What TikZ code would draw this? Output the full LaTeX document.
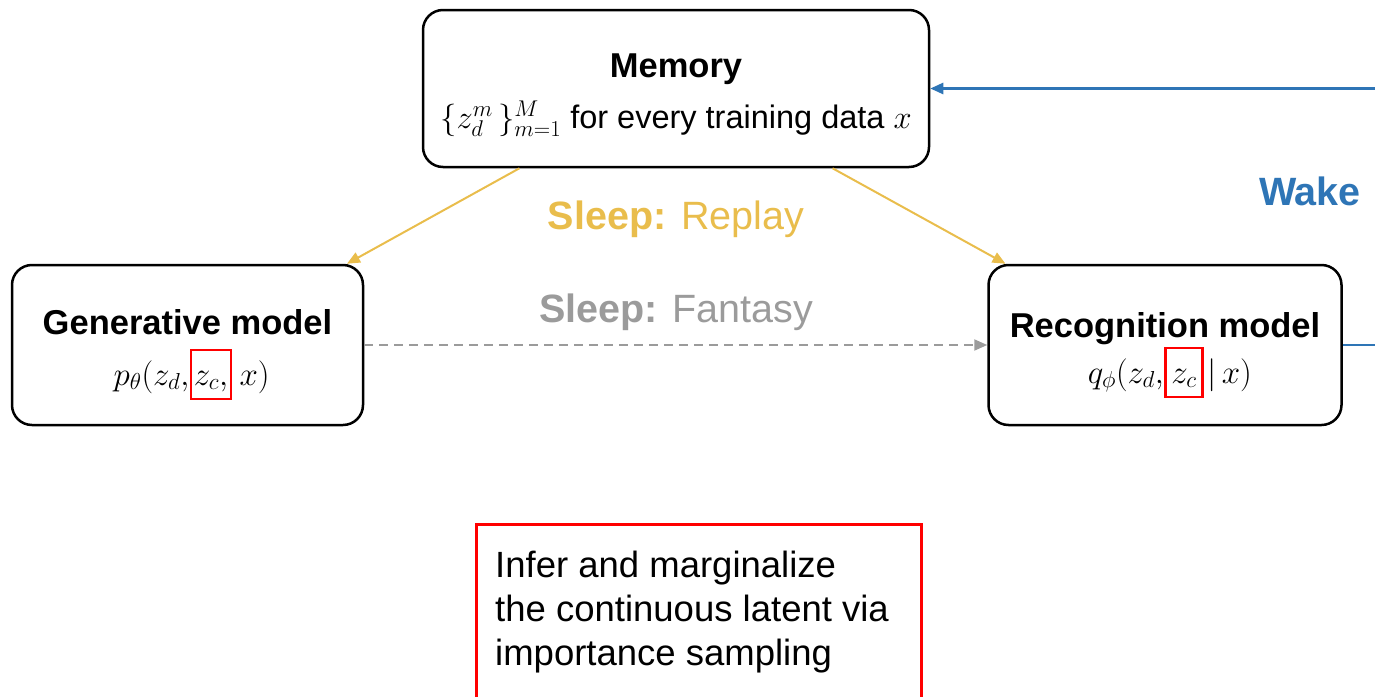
\RequirePackage{fix-cm}
\documentclass[tikz,border=0pt]{standalone}
\usepackage{fontspec}
\setmainfont{Liberation Sans}
\usetikzlibrary{arrows.meta,calc}
\definecolor{sleepyellow}{RGB}{233,189,76}
\definecolor{sleepgray}{RGB}{155,155,155}
\definecolor{wakeblue}{RGB}{46,117,182}
\begin{document}
\begin{tikzpicture}[x=1pt,y=-1pt,
  box/.style={draw=black, line width=2.5pt, rounded corners=20pt, fill=white, inner sep=0pt},
  titlefont/.style={font=\fontsize{34.5}{40}\selectfont\bfseries},
  formfont/.style={font=\fontsize{33}{38}\selectfont},
  zcbox/.style={draw=red, line width=2.5pt, inner ysep=0pt, text height=35pt, text depth=14pt, formfont},
  plain/.style={inner sep=0pt, formfont},
  yarrow/.style={draw=sleepyellow, line width=2pt, -{Triangle[length=13pt,width=11pt]}},
  garrow/.style={draw=sleepgray, line width=2pt, dash pattern=on 9pt off 6pt, -{Triangle[length=13pt,width=11pt]}},
  barrow/.style={draw=wakeblue, line width=2.5pt, -{Triangle[length=13pt,width=11pt]}},
  bline/.style={draw=wakeblue, line width=2.5pt},
  sleeplabel/.style={inner sep=0pt, anchor=base, font=\fontsize{39.5}{44}\selectfont}
]
\useasboundingbox (0,0) rectangle (1375,696);

% boxes
\node[box, minimum width=506pt, minimum height=157pt] (mem) at (676,88.5) {};
\node[box, minimum width=351pt, minimum height=160pt] (gen) at (187.5,345) {};
\node[box, minimum width=353pt, minimum height=160pt] (rec) at (1165,345) {};

% memory text
\node[titlefont, anchor=base, inner sep=0pt] (memtitle) at (676,77) {Memory};
\node[font=\fontsize{32.5}{38}\selectfont, anchor=base, inner sep=0pt] (memtext) at (676,128) {$\{z_d^m\,\}_{m=1}^M$ for every training data $x$};

% generative text
\node[titlefont, anchor=base, inner sep=0pt] (gentitle) at (187.5,334) {Generative model};
\node[zcbox, inner xsep=3pt, anchor=base] (gzc) at (211,385) {$z_c,$};
\node[plain, anchor=base east] (gleft) at (gzc.base west) {$p_\theta(z_d,$};
\node[plain, anchor=base west] (gright) at ([xshift=7pt]gzc.base east) {$x)$};

% recognition text
\node[titlefont, anchor=base, inner sep=0pt] (rectitle) at (1165,337) {Recognition model};
\node[zcbox, inner xsep=6pt, anchor=base] (rzc) at (1184,383) {$z_c$};
\node[plain, anchor=base east] (rleft) at (rzc.base west) {$q_\phi(z_d,$};
\node[plain, anchor=base west] (rright) at ([xshift=3pt]rzc.base east) {$|\,x)$};

% labels
\node[sleeplabel, text=sleepyellow] (replay) at (676,229) {\textbf{Sleep:} Replay};
\node[sleeplabel, text=sleepgray] (fantasy) at (676,322) {\textbf{Sleep:} Fantasy};
\node[sleeplabel, text=wakeblue] (wake) at (1310,205) {\textbf{Wake}};

% connectors
\draw[yarrow] (mem.207) -- (gen.27);
\draw[yarrow] (mem.333) -- (rec.153);
\draw[garrow] (gen.east) -- (rec.west);
\coordinate (wakein) at (1380,88.5);
\coordinate (wakeout) at (1380,345);
\draw[barrow] (wakein) -- (mem.east);
\draw[bline] (rec.east) -- (wakeout);

% note
\node[draw=red, line width=3pt, minimum width=445pt, minimum height=200pt, anchor=north west, inner sep=0pt] (note) at (475,523) {};
\node[anchor=west, align=left, inner sep=0pt, font=\fontsize{36.5}{44}\selectfont] (notetext) at (495,612.5) {Infer and marginalize\\the continuous latent via\\importance sampling};
\end{tikzpicture}
\end{document}
